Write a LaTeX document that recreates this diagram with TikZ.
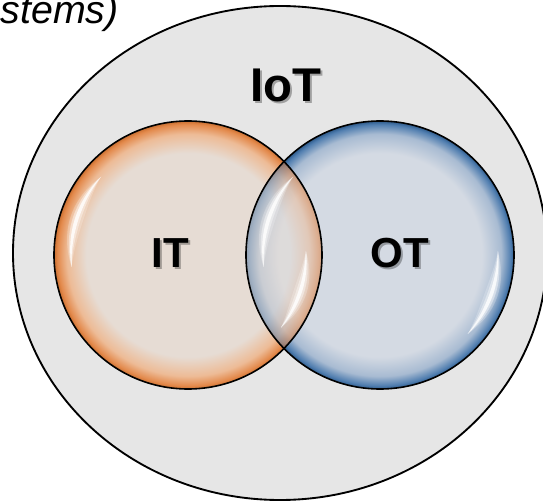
\documentclass[tikz,border=0pt]{standalone}
\usepackage{fontspec}
\setmainfont{Liberation Sans}

% palette
\definecolor{iotfill}{HTML}{E6E6E6}
\definecolor{itin}{HTML}{E6DCD4}
\definecolor{itmid}{HTML}{EDBB96}
\definecolor{itout}{HTML}{E3894B}
\definecolor{itedge}{HTML}{C96F30}
\definecolor{otin}{HTML}{D4DAE3}
\definecolor{otmid}{HTML}{A8BBD2}
\definecolor{otout}{HTML}{4F7DAF}
\definecolor{otedge}{HTML}{2E5A8A}

% bubble shadings: flat centre, coloured rim (25bp = rim of the circle)
\pgfdeclareradialshading{itbubble}{\pgfpointorigin}{%
  color(0bp)=(itin); color(19bp)=(itin); color(22.6bp)=(itmid);
  color(24.4bp)=(itout); color(25bp)=(itedge); color(50bp)=(itedge)}
\pgfdeclareradialshading{otbubble}{\pgfpointorigin}{%
  color(0bp)=(otin); color(19bp)=(otin); color(22.6bp)=(otmid);
  color(24.4bp)=(otout); color(25bp)=(otedge); color(50bp)=(otedge)}

% crescent-shaped gloss: centre x, centre y, from angle, to angle, radius, half width
\newcommand\glint[6]{%
  \fill plot[smooth, domain=#3:#4, samples=30, variable=\t]
    ({#1+(#5+#6*sin(180*(\t-(#3))/((#4)-(#3))))*cos(\t)},
     {#2-(#5+#6*sin(180*(\t-(#3))/((#4)-(#3))))*sin(\t)})
    -- plot[smooth, domain=#4:#3, samples=30, variable=\t]
    ({#1+(#5-#6*sin(180*(\t-(#3))/((#4)-(#3))))*cos(\t)},
     {#2-(#5-#6*sin(180*(\t-(#3))/((#4)-(#3))))*sin(\t)})
    -- cycle;}
\newcommand\softglint[5]{%
  \begin{scope}[fill=white, opacity=0.22]\glint{#1}{#2}{#3}{#4}{#5}{6.5}\end{scope}
  \begin{scope}[fill=white, opacity=0.40]\glint{#1}{#2}{#3}{#4}{#5}{4}\end{scope}
  \begin{scope}[fill=white, opacity=0.80]\glint{#1}{#2}{#3}{#4}{#5}{1.8}\end{scope}}

\tikzset{
  outline/.style={draw=black, line width=1.2pt},
  label/.style={inner sep=0pt, font=\bfseries\fontsize{31.5}{34}\selectfont},
  biglabel/.style={label, font=\bfseries\fontsize{35.5}{38}\selectfont},
  dropshadow/.style={text=black, opacity=0.3},
}

\begin{document}
\begin{tikzpicture}[x=0.75pt,y=-0.75pt]
\useasboundingbox (0,0) rectangle (543,502);
\clip (0,0) rectangle (543,502);

% IoT: the enclosing ellipse
\fill[iotfill] (280,253) ellipse [x radius=267, y radius=247];
\draw[line width=1.4pt] (280,253) ellipse [x radius=267, y radius=247];

% IT and OT bubbles
\shade[shading=itbubble] (188,255) circle [radius=134];
\shade[shading=otbubble] (380,255) circle [radius=134];

% overlap: IT seen through OT
\begin{scope}
  \clip (380,255) circle [radius=134];
  \shade[shading=itbubble, opacity=0.55] (188,255) circle [radius=134];
\end{scope}

% glossy highlights
\softglint{188}{255}{138}{186}{117}
\softglint{188}{255}{-38}{2}{118}
\softglint{380}{255}{138}{186}{117}
\softglint{380}{255}{-42}{2}{118}

% rims
\draw[outline] (188,255) circle [radius=134];
\draw[outline] (380,255) circle [radius=134];

% labels with a soft drop shadow
\node[biglabel, dropshadow] at (288,87) {IoT};
\node[biglabel] (iot) at (286,85) {IoT};

\node[label, dropshadow] at (172,255) {IT};
\node[label] (it) at (170,253) {IT};

\node[label, dropshadow] at (402,255) {OT};
\node[label] (ot) at (400,253) {OT};

% caption fragment at the top edge
\node[inner sep=0pt, anchor=base east, font=\itshape\fontsize{29.5}{32}\selectfont]
  (cap) at (119,24) {stems)};
\end{tikzpicture}
\end{document}
